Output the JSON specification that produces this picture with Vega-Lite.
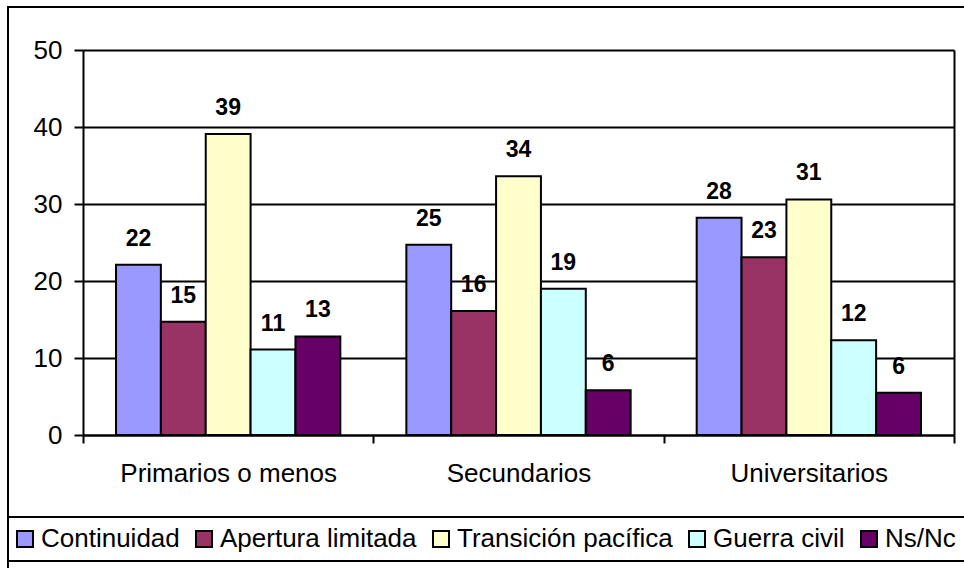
{
  "$schema": "https://vega.github.io/schema/vega-lite/v6.json",
  "width": 964,
  "height": 570,
  "autosize": {"type": "none"},
  "padding": {"left": 8, "top": 7, "right": 0, "bottom": 0},
  "background": "white",
  "config": {
    "font": "Liberation Sans",
    "view": {"stroke": "black", "strokeWidth": 2},
    "legend": {"strokeWidth": 2},
    "axis": {
      "domainColor": "black",
      "domainWidth": 2,
      "tickColor": "black",
      "tickWidth": 2,
      "gridColor": "black",
      "gridWidth": 2,
      "gridOpacity": 1,
      "labelColor": "black",
      "labelFontSize": 26,
      "labelFont": "Liberation Sans",
      "labelLimit": 400
    }
  },
  "data": {
    "values": [
      {"group": "Primarios o menos", "cat": "Continuidad", "value": 22.1},
      {"group": "Primarios o menos", "cat": "Apertura limitada", "value": 14.7},
      {"group": "Primarios o menos", "cat": "Transición pacífica", "value": 39.1},
      {"group": "Primarios o menos", "cat": "Guerra civil", "value": 11.1},
      {"group": "Primarios o menos", "cat": "Ns/Nc", "value": 12.8},
      {"group": "Secundarios", "cat": "Continuidad", "value": 24.7},
      {"group": "Secundarios", "cat": "Apertura limitada", "value": 16.1},
      {"group": "Secundarios", "cat": "Transición pacífica", "value": 33.6},
      {"group": "Secundarios", "cat": "Guerra civil", "value": 19.0},
      {"group": "Secundarios", "cat": "Ns/Nc", "value": 5.8},
      {"group": "Universitarios", "cat": "Continuidad", "value": 28.2},
      {"group": "Universitarios", "cat": "Apertura limitada", "value": 23.1},
      {"group": "Universitarios", "cat": "Transición pacífica", "value": 30.6},
      {"group": "Universitarios", "cat": "Guerra civil", "value": 12.3},
      {"group": "Universitarios", "cat": "Ns/Nc", "value": 5.5}
    ]
  },
  "layer": [
    {
      "mark": {"type": "bar", "stroke": "black", "strokeWidth": 2},
      "encoding": {
        "x": {
          "field": "group",
          "type": "nominal",
          "sort": ["Primarios o menos", "Secundarios", "Universitarios"],
          "scale": {"range": [75, 946], "paddingInner": 0, "paddingOuter": 0},
          "axis": {
            "title": null,
            "labelAngle": 0,
            "tickBand": "extent",
            "tickSize": 8,
            "labelPadding": 17,
            "labelBaseline": "top",
            "offset": -142,
            "grid": false
          }
        },
        "xOffset": {
          "field": "cat",
          "type": "nominal",
          "sort": ["Continuidad", "Apertura limitada", "Transición pacífica", "Guerra civil", "Ns/Nc"],
          "scale": {"paddingInner": 0, "paddingOuter": 0.736}
        },
        "y": {
          "field": "value",
          "type": "quantitative",
          "scale": {"domain": [0, 50], "range": [428, 43], "nice": false},
          "axis": {
            "title": null,
            "values": [0, 10, 20, 30, 40, 50],
            "tickSize": 9,
            "labelPadding": 12,
            "offset": -75,
            "grid": true
          }
        },
        "fill": {
          "field": "cat",
          "type": "nominal",
          "scale": {
            "domain": ["Continuidad", "Apertura limitada", "Transición pacífica", "Guerra civil", "Ns/Nc"],
            "range": ["#9999FF", "#993366", "#FFFFCC", "#CCFFFF", "#660066"]
          },
          "legend": {
            "title": null,
            "orient": "none",
            "legendX": 0,
            "legendY": 510,
            "direction": "horizontal",
            "columns": 5,
            "padding": 9,
            "strokeColor": "black",
            "symbolType": "square",
            "symbolSize": 256,
            "symbolOffset": -5,
            "symbolStrokeColor": "black",
            "symbolStrokeWidth": 2,
            "labelFontSize": 26,
            "labelFont": "Liberation Sans",
            "labelColor": "black",
            "labelOffset": 3,
            "columnPadding": 12,
            "labelLimit": 400
          }
        }
      }
    },
    {
      "mark": {"type": "text", "fontWeight": "bold", "fontSize": 23, "dy": -19, "baseline": "alphabetic", "color": "black", "font": "Liberation Sans"},
      "encoding": {
        "x": {"field": "group", "type": "nominal", "sort": ["Primarios o menos", "Secundarios", "Universitarios"]},
        "xOffset": {"field": "cat", "type": "nominal", "sort": ["Continuidad", "Apertura limitada", "Transición pacífica", "Guerra civil", "Ns/Nc"]},
        "y": {
          "field": "value",
          "type": "quantitative",
          "axis": {"orient": "right", "title": null, "labels": false, "ticks": false, "grid": false, "domain": true, "offset": -18}
        },
        "text": {"field": "value", "type": "quantitative", "format": ".0f"}
      }
    }
  ],
  "resolve": {"axis": {"y": "independent"}}
}
